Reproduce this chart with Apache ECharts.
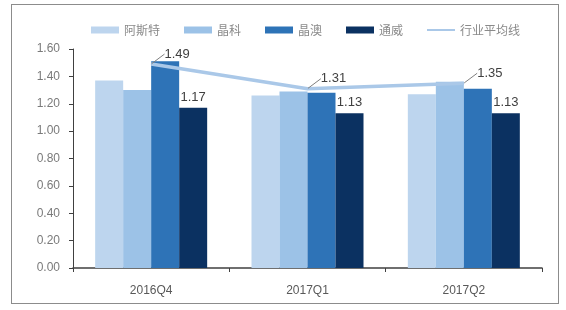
<!DOCTYPE html>
<html>
<head>
<meta charset="utf-8">
<script src="https://cdn.jsdelivr.net/npm/echarts@6/dist/echarts.min.js"></script>
<style>
html,body{margin:0;padding:0;background:#fff;}
#frame{position:absolute;left:11px;top:4px;width:548px;height:300px;border:1px solid #8c8c8c;box-sizing:border-box;}
#chart{position:absolute;left:0;top:0;width:566px;height:310px;}
</style>
</head>
<body>
<div id="frame"></div>
<div id="chart"></div>
<script>
var categories = ['2016Q4', '2017Q1', '2017Q2'];
var seriesNames = ['阿斯特', '晶科', '晶澳', '通威', '行业平均线'];
var asite = [1.37, 1.26, 1.27];
var jinko = [1.30, 1.29, 1.36];
var jinao = [1.51, 1.28, 1.31];
var tongwei = [1.17, 1.13, 1.13];
var avgLine = [1.49, 1.31, 1.35];
var yTicks = [0, 0.2, 0.4, 0.6, 0.8, 1.0, 1.2, 1.4, 1.6];

var colors = ['#bdd5ee', '#9cc2e7', '#2e73b7', '#0b3161', '#aac8e8'];
var chart = echarts.init(document.getElementById('chart'), null, {renderer: 'canvas'});

function barSeries(name, data, color, showLabel) {
  return {
    name: name, type: 'bar', data: data, barWidth: 28, barGap: '0%',
    itemStyle: {color: color},
    label: showLabel ? {show: true, position: 'top', distance: 4, color: '#404040',
      fontFamily: 'Liberation Sans, Arial, sans-serif', fontSize: 13,
      formatter: function (p) { return p.value.toFixed(2); }} : {show: false},
    z: 2
  };
}

chart.setOption({
  animation: false,
  textStyle: {fontFamily: 'Liberation Sans, Arial, sans-serif'},
  legend: {
    top: 19, left: 86, itemWidth: 28, itemHeight: 7, itemGap: 24,
    textStyle: {color: '#8a8a8a', fontSize: 12, fontFamily: 'Noto Sans CJK SC, sans-serif'},
    data: [
      {name: seriesNames[0], icon: 'rect'},
      {name: seriesNames[1], icon: 'rect'},
      {name: seriesNames[2], icon: 'rect'},
      {name: seriesNames[3], icon: 'rect'},
      {name: seriesNames[4], icon: 'path://M0,0 L28,0 L28,2 L0,2 Z'}
    ]
  },
  grid: {left: 73, right: 24, top: 49, bottom: 42},
  xAxis: {
    type: 'category', data: categories,
    axisLine: {lineStyle: {color: '#404040', width: 1.5}},
    axisTick: {show: true, length: 4, lineStyle: {color: '#404040'}},
    axisLabel: {color: '#595959', fontSize: 12, margin: 17}
  },
  yAxis: {
    type: 'value', min: 0, max: 1.6, interval: 0.2,
    splitLine: {show: false},
    axisLine: {show: true, lineStyle: {color: '#404040'}},
    axisTick: {show: true, length: 4, lineStyle: {color: '#404040'}},
    axisLabel: {color: '#7a7a7a', fontSize: 12, margin: 13,
      formatter: function (v) { return v.toFixed(2); }}
  },
  series: [
    barSeries(seriesNames[0], asite, colors[0], false),
    barSeries(seriesNames[1], jinko, colors[1], false),
    barSeries(seriesNames[2], jinao, colors[2], false),
    barSeries(seriesNames[3], tongwei, colors[3], true),
    {
      name: seriesNames[4], type: 'line', data: avgLine,
      symbol: 'circle', symbolSize: 1, showSymbol: true,
      lineStyle: {color: colors[4], width: 3.5}, itemStyle: {color: colors[4]},
      z: 5,
      label: {show: true, position: 'top', distance: 6, color: '#404040', fontSize: 13,
        fontFamily: 'Liberation Sans, Arial, sans-serif',
        formatter: function (p) { return p.value.toFixed(2); }},
      labelLayout: {dx: 26, dy: 3},
      labelLine: {show: true, lineStyle: {color: '#7f7f7f', width: 1}}
    }
  ]
});
</script>
</body>
</html>
